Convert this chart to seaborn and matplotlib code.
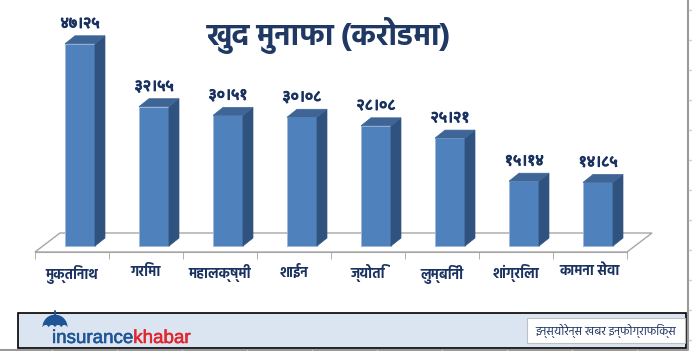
import matplotlib
matplotlib.use("Agg")
import matplotlib.pyplot as plt
import matplotlib.patheffects as pe
from matplotlib import font_manager
from matplotlib.ft2font import FT2Font
from matplotlib.patches import Polygon, Rectangle, Wedge
import seaborn as sns
import pandas as pd

# data
companies = ["मुक्तिनाथ", "गरिमा", "महालक्ष्मी", "शाईन", "ज्योति", "लुम्बिनी", "शांग्रिला", "कामना सेवा"]
profit = [47.25, 32.55, 30.51, 30.08, 28.08, 25.21, 15.14, 14.85]
profit_labels = ["४७।२५", "३२।५५", "३०।५१", "३०।०८", "२८।०८", "२५।२१", "१५।१४", "१४।८५"]
title = "खुद मुनाफा (करोडमा)"
brand = ["insurance", "khabar"]
footer = "इन्स्योरेन्स खबर इन्फोग्राफिक्स"

navy = "#1a3260"

needed = set("".join(companies + profit_labels + [title, footer])) - set(" ()")


# Devanagari fonts: every char present, and real Devanagari digits (not latin aliases)
def find_deva_fonts():
    found = {}
    for f in font_manager.fontManager.ttflist:
        try:
            cmap = FT2Font(f.fname).get_charmap()
        except Exception:
            continue
        if 0x0915 not in cmap:
            continue
        ok = all(ord(c) in cmap for c in needed) and cmap.get(0x096A) != cmap.get(0x34)
        w = f.weight if isinstance(f.weight, int) else 400
        found.setdefault(f.name, []).append((w, ok))
    return found


sns.set_style("white")
deva_fonts = find_deva_fonts()
good = {n: v for n, v in deva_fonts.items() if all(ok for _, ok in v)}
deva = None
for name in ["Noto Sans Devanagari", "Hind", "Mukta", "Poppins", "Martel Sans", "Biryani"]:
    if name in good and max(w for w, _ in good[name]) >= 700:
        deva = name
        break
if deva is None and good:
    deva = max(good.items(), key=lambda kv: max(w for w, _ in kv[1]))[0]
if deva is None and deva_fonts:
    deva = next(iter(deva_fonts))
families = ([deva] if deva else []) + ["DejaVu Sans"]
plt.rcParams["font.family"] = families

# Hind draws its devanagari digits latin-style, so numbers get Noto (faked bold)
digit_font = ["Noto Sans Devanagari"] + families if "Noto Sans Devanagari" in deva_fonts else families

W, H = 692, 351
fig = plt.figure(figsize=(W / 100, H / 100), dpi=100)
renderer = fig.canvas.get_renderer()


def fit_width(t, target_px):
    w = t.get_window_extent(renderer).width
    if w > 0:
        t.set_fontsize(t.get_fontsize() * target_px / w)


# axes: y=0 at pixel 246, 4.28 px per unit
px = 4.28
ymin, ymax = -6 / px, (246 - 20) / px
ax = fig.add_axes([35 / W, (H - 252) / H, (627 - 35) / W, (252 - 20) / H])

df = pd.DataFrame({"company": companies, "profit": profit})
sns.barplot(data=df, x="company", y="profit", color="#4f81bd", width=0.405,
            saturation=1, edgecolor="#9db8dc", linewidth=0.6, ax=ax, zorder=3)
ax.set_xlim(-0.5, len(companies) - 0.5)
ax.set_ylim(ymin, ymax)

# 3d floor
fdx, fdy = 25 / 74, 19 / px
floor = Polygon([(-0.5, ymin), (7.5, ymin), (7.5 + fdx, ymin + fdy), (-0.5 + fdx, ymin + fdy)],
                closed=True, facecolor="white", edgecolor="#a6a6a6", lw=1, zorder=1, clip_on=False)
ax.add_patch(floor)

# 3d bar faces
dx, dy = 10 / 74, 8 / px
for p, lab in zip(ax.patches[:len(profit)], profit_labels):
    p.set_x(p.get_x() + 0.108)
    x0, w, h = p.get_x(), p.get_width(), p.get_height()
    x1 = x0 + w
    side = Polygon([(x1, 0), (x1 + dx, dy), (x1 + dx, h + dy), (x1, h)],
                   closed=True, facecolor="#30527e", edgecolor="#30527e", lw=0.5, zorder=3)
    top = Polygon([(x0, h), (x0 + dx, h + dy), (x1 + dx, h + dy), (x1, h)],
                  closed=True, facecolor="#3f6597", edgecolor="#3f6597", lw=0.5, zorder=3)
    ax.add_patch(side)
    ax.add_patch(top)
    vt = ax.text(x0 + w / 2, h + dy + 0.9, lab, ha="center", va="bottom", family=digit_font,
                 fontsize=10, fontweight="bold", color=navy, zorder=4,
                 path_effects=[pe.withStroke(linewidth=0.8, foreground=navy)])
    fit_width(vt, 39)

for s in ["left", "right", "top"]:
    ax.spines[s].set_visible(False)
ax.spines["bottom"].set_color("#a6a6a6")
ax.set_yticks([])
ax.set_xlabel("")
ax.set_ylabel("")
ax.set_xticks(range(len(companies)))
ax.set_xticklabels(companies, fontsize=10, fontweight="bold", color=navy)
ax.set_xticks([i - 0.5 for i in range(len(companies) + 1)], minor=True)
ax.tick_params(axis="x", which="major", length=0, pad=9)
ax.tick_params(axis="x", which="minor", length=5, color="#a6a6a6", direction="out", bottom=True)
ax.patch.set_alpha(0)

tt = fig.text(329 / W, 1 - 35 / H, title, ha="center", va="center", fontsize=18,
              fontweight="bold", color="#1f3864")
fit_width(tt, 242)

# footer banner in its own axes (pixel coords, y down)
bax = fig.add_axes([0, 0, 1, 1], zorder=5)
bax.set_xlim(0, W)
bax.set_ylim(H, 0)
bax.axis("off")
bax.add_patch(Rectangle((18, 313), 668, 35, facecolor="#dbe5f1", edgecolor="black", lw=1.2))
bax.add_patch(Rectangle((527, 318), 158, 25, facecolor="white", edgecolor="#bfbfbf", lw=0.8))
ft = bax.text(606, 331, footer, ha="center", va="center", fontsize=9, color=navy)
fit_width(ft, 140)

brand_font = ["Liberation Sans Narrow", "Liberation Sans", "DejaVu Sans"]
t1 = bax.text(52, 343, brand[0], ha="left", va="baseline", fontsize=13.5,
              color="#1f5497", family=brand_font,
              path_effects=[pe.withStroke(linewidth=0.4, foreground="#1f5497")])
bb = t1.get_window_extent(renderer).transformed(bax.transData.inverted())
bax.text(bb.x1, 343, brand[1], ha="left", va="baseline", fontsize=13.5,
         color="#e3262d", family=brand_font,
         path_effects=[pe.withStroke(linewidth=0.4, foreground="#e3262d")])

# umbrella
uax = fig.add_axes([40 / W, (H - 329) / H, 30 / W, 20 / H], zorder=6)
uax.set_xlim(-1.2, 1.2)
uax.set_ylim(-0.15, 1.45)
uax.add_patch(Wedge((0, 0), 1, 0, 180, facecolor="#1f5497", edgecolor="none"))
for cx in [-0.75, -0.25, 0.25, 0.75]:
    uax.add_patch(Wedge((cx, -0.08), 0.25, 0, 180, facecolor="#dbe5f1", edgecolor="none"))
uax.plot([0, 0], [0.95, 1.3], color="#1f5497", lw=1.4)
uax.axis("off")

# sheet gridline remnants on the right and bottom
line_ax = fig.add_axes([0, 0, 1, 1], zorder=-1)
line_ax.set_xlim(0, W)
line_ax.set_ylim(H, 0)
line_ax.axis("off")
line_ax.plot([688, 688], [0, 349], color="#9a9a9a", lw=1.5)
line_ax.plot([0, 688], [349.5, 349.5], color="#9a9a9a", lw=1.5)
for yy in range(10, 349, 30):
    line_ax.plot([689, 692], [yy, yy], color="#cfcfcf", lw=1)
for xx in range(52, 688, 65):
    line_ax.plot([xx, xx], [350, 351], color="#cfcfcf", lw=1)

fig.savefig("out.png", dpi=100, facecolor="white")
